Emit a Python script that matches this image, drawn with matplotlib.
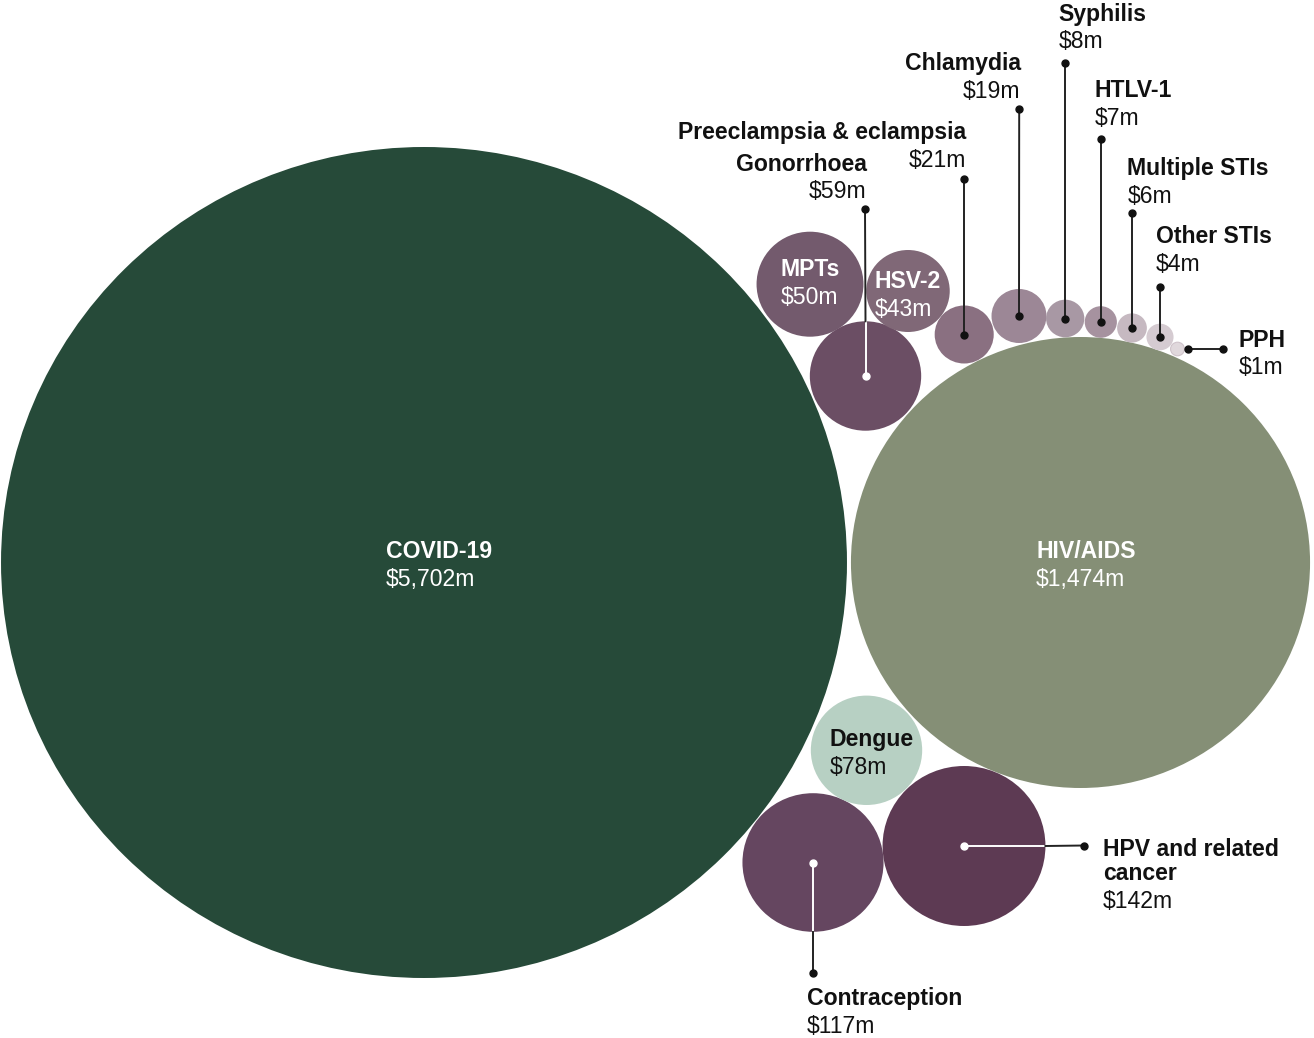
import matplotlib
matplotlib.use("Agg")
import matplotlib.pyplot as plt
from matplotlib.patches import Ellipse

plt.rcParams['font.family'] = ['Liberation Sans', 'DejaVu Sans']

# funding by area, $m
areas = ["COVID-19", "HIV/AIDS", "HPV and related\ncancer", "Contraception", "Dengue",
         "Gonorrhoea", "MPTs", "HSV-2", "Preeclampsia & eclampsia", "Chlamydia",
         "Syphilis", "HTLV-1", "Multiple STIs", "Other STIs", "PPH"]
funding = [5702, 1474, 142, 117, 78, 59, 50, 43, 21, 19, 8, 7, 6, 4, 1]

# packed layout in pixel units (x, y, radius)
cx = [424, 1080.5, 964, 813, 866.5, 865.5, 810, 908, 964.2, 1019, 1065.2, 1100.8, 1132, 1160, 1177.5]
cy = [562.5, 562.5, 846, 862.5, 750.3, 376, 284.2, 291, 334.5, 316, 318.5, 322, 328, 337, 349]
rad = [415.5, 225.5, 80, 69.3, 54.7, 54.7, 52.5, 41, 29, 27, 18.8, 15.8, 14.6, 13.3, 6.8]
SX = 1.018  # source is a touch wider than tall

colors = ["#264A39", "#858F76", "#5D3A53", "#654660", "#B7D0C3",
          "#6B4E64", "#735A6D", "#806877", "#8A7081", "#9C8796",
          "#A898A4", "#A6929F", "#C6B9C1", "#D5CBD1", "#E0D8DC"]

# label placement: (x, name baseline, align, text colour)
lab_pos = {
    "COVID-19": (386, 558.3, "left", "white"),
    "HIV/AIDS": (1036, 558, "left", "white"),
    "MPTs": (780.5, 276, "left", "white"),
    "HSV-2": (874.3, 288.3, "left", "white"),
    "Dengue": (829.3, 746, "left", "#111111"),
    "Gonorrhoea": (866.7, 170.7, "right", "#111111"),
    "Preeclampsia & eclampsia": (966.5, 139.3, "right", "#111111"),
    "Chlamydia": (1020.7, 70, "right", "#111111"),
    "Syphilis": (1058.3, 20.7, "left", "#111111"),
    "HTLV-1": (1095, 97.3, "left", "#111111"),
    "Multiple STIs": (1127.3, 175, "left", "#111111"),
    "Other STIs": (1156, 243.3, "left", "#111111"),
    "PPH": (1239, 346.7, "left", "#111111"),
    "HPV and related\ncancer": (1102.7, 856, "left", "#111111"),
    "Contraception": (806.7, 1005, "left", "#111111"),
}

# leader lines: outer end point (start is the circle centre unless given)
leaders = {
    "Gonorrhoea": (865, 209),
    "Preeclampsia & eclampsia": (964.2, 179),
    "Chlamydia": (1019.2, 109),
    "Syphilis": (1065.2, 62.7),
    "HTLV-1": (1100.8, 139.3),
    "Multiple STIs": (1132, 213.3),
    "Other STIs": (1160, 287),
    "PPH": (1222.7, 349),
    "HPV and related\ncancer": (1084, 845.5),
    "Contraception": (813, 972.7),
}
leader_start = {"PPH": (1187.7, 349)}
white_inside = {"Gonorrhoea", "HPV and related\ncancer", "Contraception"}

FS = 16.6
LINE = 27.6
WRAP = 24

fig = plt.figure(figsize=(13.14, 10.38), dpi=100)
ax = fig.add_axes([0, 0, 1, 1])
ax.set_xlim(0, 1314)
ax.set_ylim(1038, 0)
ax.axis("off")

for i, name in enumerate(areas):
    ec = "#CFC3CA" if name == "PPH" else "none"
    ax.add_patch(Ellipse((cx[i], cy[i]), 2 * rad[i] * SX, 2 * rad[i],
                         facecolor=colors[i], edgecolor=ec, lw=0.8, zorder=1))

for i, name in enumerate(areas):
    if name not in leaders:
        continue
    x1, y1 = leaders[name]
    x0, y0 = leader_start.get(name, (cx[i], cy[i]))
    if name in white_inside:
        # white part inside the bubble, dark part outside
        if abs(x1 - x0) < 2:
            sign = 1 if y1 > y0 else -1
            ex, ey = x0, cy[i] + sign * rad[i]
        else:
            sign = 1 if x1 > x0 else -1
            ex, ey = cx[i] + sign * rad[i] * SX, y0
        ax.plot([x0, ex], [y0, ey], color="white", lw=1.4, zorder=3)
        ax.plot([ex, x1], [ey, y1], color="#222222", lw=1.4, zorder=3)
        ax.plot([x0], [y0], "o", color="white", ms=5, zorder=4)
    else:
        ax.plot([x0, x1], [y0, y1], color="#222222", lw=1.4, zorder=3)
        ax.plot([x0], [y0], "o", color="#111111", ms=5, zorder=4)
    ax.plot([x1], [y1], "o", color="#111111", ms=5, zorder=4)

for i, name in enumerate(areas):
    x, y, ha, col = lab_pos[name]
    parts = name.split("\n")
    for k, part in enumerate(parts):
        ax.text(x, y + k * WRAP, part, ha=ha, va="baseline", fontsize=FS,
                fontweight="bold", color=col, zorder=5)
    yv = y + LINE + (len(parts) - 1) * WRAP
    ax.text(x, yv, "${:,}m".format(funding[i]), ha=ha, va="baseline",
            fontsize=FS, color=col, zorder=5)

fig.savefig("out.png", dpi=100)
